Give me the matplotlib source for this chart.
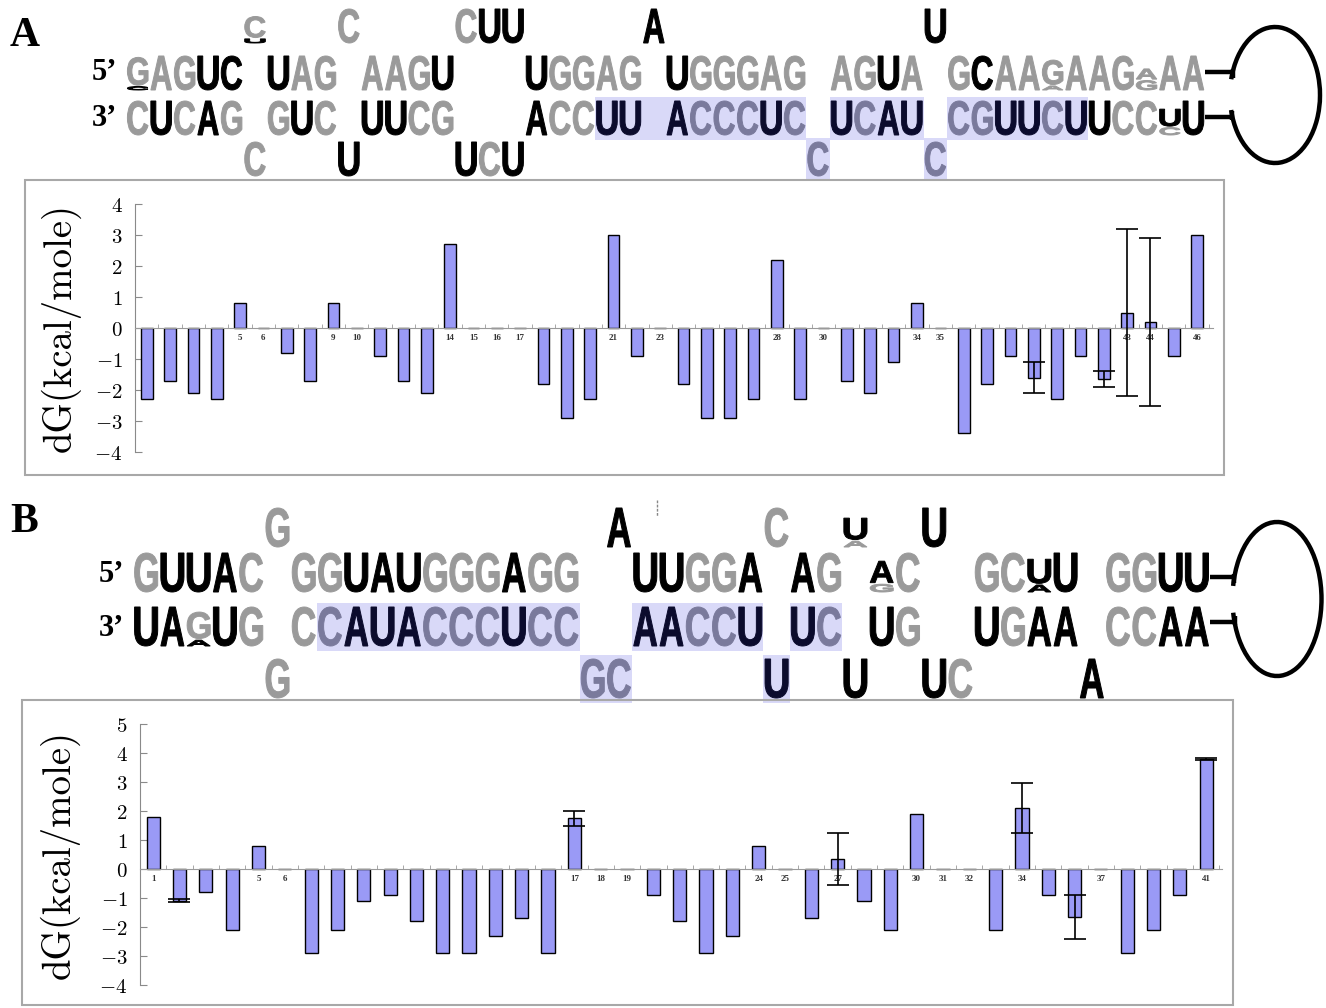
import numpy as np
import matplotlib
matplotlib.use('Agg')
import matplotlib.pyplot as plt
from matplotlib.textpath import TextPath
from matplotlib.font_manager import FontProperties
from matplotlib.patches import PathPatch, Rectangle, Arc
from matplotlib.transforms import Affine2D

plt.rcParams['mathtext.fontset'] = 'cm'

# ---- free energy per position (kcal/mole) ----
dg_a = [-2.3, -1.7, -2.1, -2.3, 0.8, 0, -0.8, -1.7, 0.8, 0,
        -0.9, -1.7, -2.1, 2.7, 0, 0, 0, -1.8, -2.9, -2.3,
        3.0, -0.9, 0, -1.8, -2.9, -2.9, -2.3, 2.2, -2.3, 0,
        -1.7, -2.1, -1.1, 0.8, 0, -3.4, -1.8, -0.9, -1.6, -2.3,
        -0.9, -1.65, 0.5, 0.2, -0.9, 3.0]
err_a = {39: 0.5, 42: 0.25, 43: 2.7, 44: 2.7}

dg_b = [1.8, -1.1, -0.8, -2.1, 0.8, 0, -2.9, -2.1, -1.1, -0.9,
        -1.8, -2.9, -2.9, -2.3, -1.7, -2.9, 1.75, 0, 0, -0.9,
        -1.8, -2.9, -2.3, 0.8, 0, -1.7, 0.35, -1.1, -2.1, 1.9,
        0, 0, -2.1, 2.1, -0.9, -1.65, 0, -2.9, -2.1, -0.9, 3.8]
err_b = {2: 0.05, 17: 0.25, 27: 0.9, 34: 0.85, 36: 0.75, 41: 0.03}

# ---- hairpin sequences, one char per column ('.' = empty) ----
a_bul_top     = ".....C...C....CUU.....A...........U..........."
a_bul_top_ink = ".....g...g....gkk.....k...........k..........."
a_top         = "GAGUC.UAG.AAGU...UGGAG.UGGGAG.AGUA.GCAAGAAGAAA"
a_top_ink     = "gggkk.kgg.gggk...kgggg.kggggg.ggkg.gkggggggggg"
a_bot         = "CUCAG.GUC.UUCG...ACCUU.ACCCUC.UCAU.CGUUCUUCCUU"
a_bot_ink     = "gkgkg.gkg.kkgg...kggkk.kgggkg.kgkk.ggkkgkkggkk"
a_bul_bot     = ".....C...U....UCU............C....C..........."
a_bul_bot_ink = ".....g...k....kgk............g....g..........."

b_bul_top     = ".....G............A.....C..U..U.........."
b_bul_top_ink = ".....g............k.....g..k..k.........."
b_top         = "GUUAC.GGUAUGGGAGG..UUGGA.AG.AC..GCUU.GGUU"
b_top_ink     = "gkkkg.ggkkkgggkgg..kkggk.kg.kg..ggkk.ggkk"
b_bot         = "UAGUG.CCAUACCCUCC..AACCU.UC.UG..UGAA.CCAA"
b_bot_ink     = "kkgkg.ggkkkgggkgg..kkggk.kg.kg..kgkk.ggkk"
b_bul_bot     = ".....G...........GC.....U..U..UC....A...."
b_bul_bot_ink = ".....g...........gg.....k..k..kg....k...."

# minor letters stacked under a shrunken major letter: col -> (letter, ink, major frac, minor frac)
a_bul_top_stack = {5: ('U', 'k', 0.62, 0.12)}
a_top_stack = {0: ('C', 'k', 0.82, 0.10), 39: ('A', 'g', 0.72, 0.12), 43: ('G', 'g', 0.30, 0.28)}
a_bot_stack = {44: ('C', 'g', 0.50, 0.22)}
b_bul_top_stack = {27: ('A', 'g', 0.55, 0.15)}
b_top_stack = {28: ('G', 'g', 0.55, 0.20), 34: ('A', 'k', 0.62, 0.18)}
b_bot_stack = {2: ('A', 'k', 0.68, 0.15)}

# shaded (target) stretches, column ranges
a_hl_bot = [(20, 28), (30, 33), (35, 40)]
a_hl_bul_bot = [(29, 29), (34, 34)]
b_hl_bot = [(7, 16), (19, 23), (25, 26)]
b_hl_bul_bot = [(17, 18), (24, 24)]

W, H = 1326, 1008
INK = {'k': '#000000', 'g': '#9a9a9a'}
INK_HL = {'k': '#0b0b2d', 'g': '#7a7a9c'}
HL = '#d9d9f8'
BAR = '#9a9af6'
fp = FontProperties(family='Liberation Sans', weight='bold')


def glyph(ax, ch, x, ybot, w, h, color):
    tp = TextPath((0, 0), ch, size=100, prop=fp)
    e = tp.get_extents()
    tr = Affine2D().translate(-e.x0, -e.y0).scale(w / e.width, -h / e.height).translate(x, ybot)
    ax.add_patch(PathPatch(tr.transform_path(tp), fc=color, ec=color, lw=0.7, zorder=3))


def draw_row(ax, seq, ink, x0, pitch, ytop, h, spans=(), stacks=None):
    assert len(seq) == len(ink)
    stacks = stacks or {}
    for a, b in spans:
        ax.add_patch(Rectangle((x0 + a * pitch, ytop - 4), (b - a + 1) * pitch, h + 9,
                               fc=HL, ec='none', zorder=1))
    for i, (ch, c) in enumerate(zip(seq, ink)):
        if ch == '.':
            continue
        pal = INK_HL if any(a <= i <= b for a, b in spans) else INK
        x = x0 + i * pitch + 0.06 * pitch
        w = 0.88 * pitch
        ybot = ytop + h
        if i in stacks:
            mch, mc, fmaj, fmin = stacks[i]
            glyph(ax, mch, x, ybot, w, fmin * h, pal[mc])
            ybot -= (fmin + 0.04) * h
            glyph(ax, ch, x, ybot, w, fmaj * h, pal[c])
        else:
            glyph(ax, ch, x, ybot, w, h, pal[c])


def loop(ax, x_end, y5, y3, cx, cy, w, h):
    lw = 3.2
    th5 = np.degrees(np.arcsin((cy - y5) / (h / 2)))
    th3 = np.degrees(np.arcsin((y3 - cy) / (h / 2)))
    ax.add_patch(Arc((cx, cy), w, h, theta1=-(180 - th5), theta2=180 - th3, color='black', lw=lw))
    for y, th, s in ((y5, th5, 1), (y3, th3, -1)):
        xa = cx - w / 2 * np.cos(np.radians(th))
        ax.plot([x_end, xa], [y, y], color='black', lw=lw, solid_capstyle='butt')
        ax.plot([xa, xa], [y - 3 * s, y + 6 * s], color='black', lw=lw, solid_capstyle='butt')


def bar_panel(fig, box, vals, errs, xlim, yticks, ylab_x):
    l, t, r, b = box
    ax = fig.add_axes([l / W, 1 - b / H, (r - l) / W, (b - t) / H])
    ax.set_facecolor('none')
    pos = np.arange(1, len(vals) + 1)
    ax.bar(pos, vals, width=0.5, color=BAR, edgecolor='black', linewidth=1.0, zorder=2)
    ex = list(errs)
    ax.errorbar(ex, [vals[i - 1] for i in ex], yerr=[errs[i] for i in ex], fmt='none',
                ecolor='black', elinewidth=1.2, capsize=8, capthick=1.2, zorder=3)
    ax.set_xlim(*xlim)
    ax.set_ylim(yticks[0], yticks[-1])
    for s in ('top', 'right'):
        ax.spines[s].set_visible(False)
    ax.spines['bottom'].set_position(('data', 0))
    ax.spines['bottom'].set_color('#9a9a9a')
    ax.spines['left'].set_color('#8a8a8a')
    ax.set_xticks(pos, [str(p) for p in pos], fontsize=6.5, family='Liberation Serif',
                  fontweight='bold', color='#333333')
    ax.set_xticks(np.arange(0.5, len(vals) + 1), minor=True)
    ax.tick_params(axis='x', which='major', length=0, pad=4)
    ax.tick_params(axis='x', which='minor', direction='in', length=3, color='#9a9a9a')
    ax.set_yticks(yticks, [f'${v}$' for v in yticks])
    ax.tick_params(axis='y', direction='in', length=5, color='#8a8a8a', labelsize=15, pad=9)
    ax.set_axisbelow(True)
    ax.set_ylabel('dG(kcal/mole)', fontfamily='cmr10', fontsize=28, va='center')
    ax.yaxis.set_label_coords((ylab_x - l) / (r - l), 0.5)
    return ax


fig = plt.figure(figsize=(W / 100, H / 100), dpi=100)
ov = fig.add_axes([0, 0, 1, 1])
ov.set_xlim(0, W)
ov.set_ylim(H, 0)
ov.axis('off')

lab = dict(fontweight='bold', family='Liberation Serif', va='center')

# ---- panel A structure ----
xa0, pa, ha = 126, 23.46, 34
draw_row(ov, a_bul_top, a_bul_top_ink, xa0, pa, 9, ha, stacks=a_bul_top_stack)
draw_row(ov, a_top, a_top_ink, xa0, pa, 56, ha, stacks=a_top_stack)
draw_row(ov, a_bot, a_bot_ink, xa0, pa, 101, ha, spans=a_hl_bot, stacks=a_bot_stack)
draw_row(ov, a_bul_bot, a_bul_bot_ink, xa0, pa, 142, ha, spans=a_hl_bul_bot)
loop(ov, xa0 + len(a_top) * pa, 72, 117, 1275, 95, 90, 136)
ov.text(10, 36, 'A', fontsize=30, **lab)
ov.text(xa0 - 9, 72, '5\u2019', fontsize=22, ha='right', **lab)
ov.text(xa0 - 9, 119, '3\u2019', fontsize=22, ha='right', **lab)

# ---- panel B structure ----
xb0, pb, hb = 133, 26.27, 39
draw_row(ov, b_bul_top, b_bul_top_ink, xb0, pb, 508, hb, stacks=b_bul_top_stack)
draw_row(ov, b_top, b_top_ink, xb0, pb, 553, hb, stacks=b_top_stack)
draw_row(ov, b_bot, b_bot_ink, xb0, pb, 607, hb, spans=b_hl_bot, stacks=b_bot_stack)
draw_row(ov, b_bul_bot, b_bul_bot_ink, xb0, pb, 659, hb, spans=b_hl_bul_bot)
loop(ov, xb0 + len(b_top) * pb, 577, 622, 1277, 599, 89, 154)
ov.plot([657, 657], [500, 516], color='#888888', lw=1, ls=(0, (2, 1)))
ov.text(10, 522, 'B', fontsize=30, **lab)
ov.text(xb0 - 9, 575, '5\u2019', fontsize=22, ha='right', **lab)
ov.text(xb0 - 9, 628, '3\u2019', fontsize=22, ha='right', **lab)

# chart frames
ov.add_patch(Rectangle((25, 180), 1199, 295, fc='none', ec='#a8a8a8', lw=1.5))
ov.add_patch(Rectangle((22, 700), 1211, 305, fc='none', ec='#a8a8a8', lw=1.5))

bar_panel(fig, (135, 204, 1213, 452), dg_a, err_a, (0.57, 46.68), list(range(-4, 5)), 61)
bar_panel(fig, (140, 724, 1222, 985), dg_b, err_b, (0.545, 41.6), list(range(-4, 6)), 60)

fig.savefig('out.png', dpi=100)
